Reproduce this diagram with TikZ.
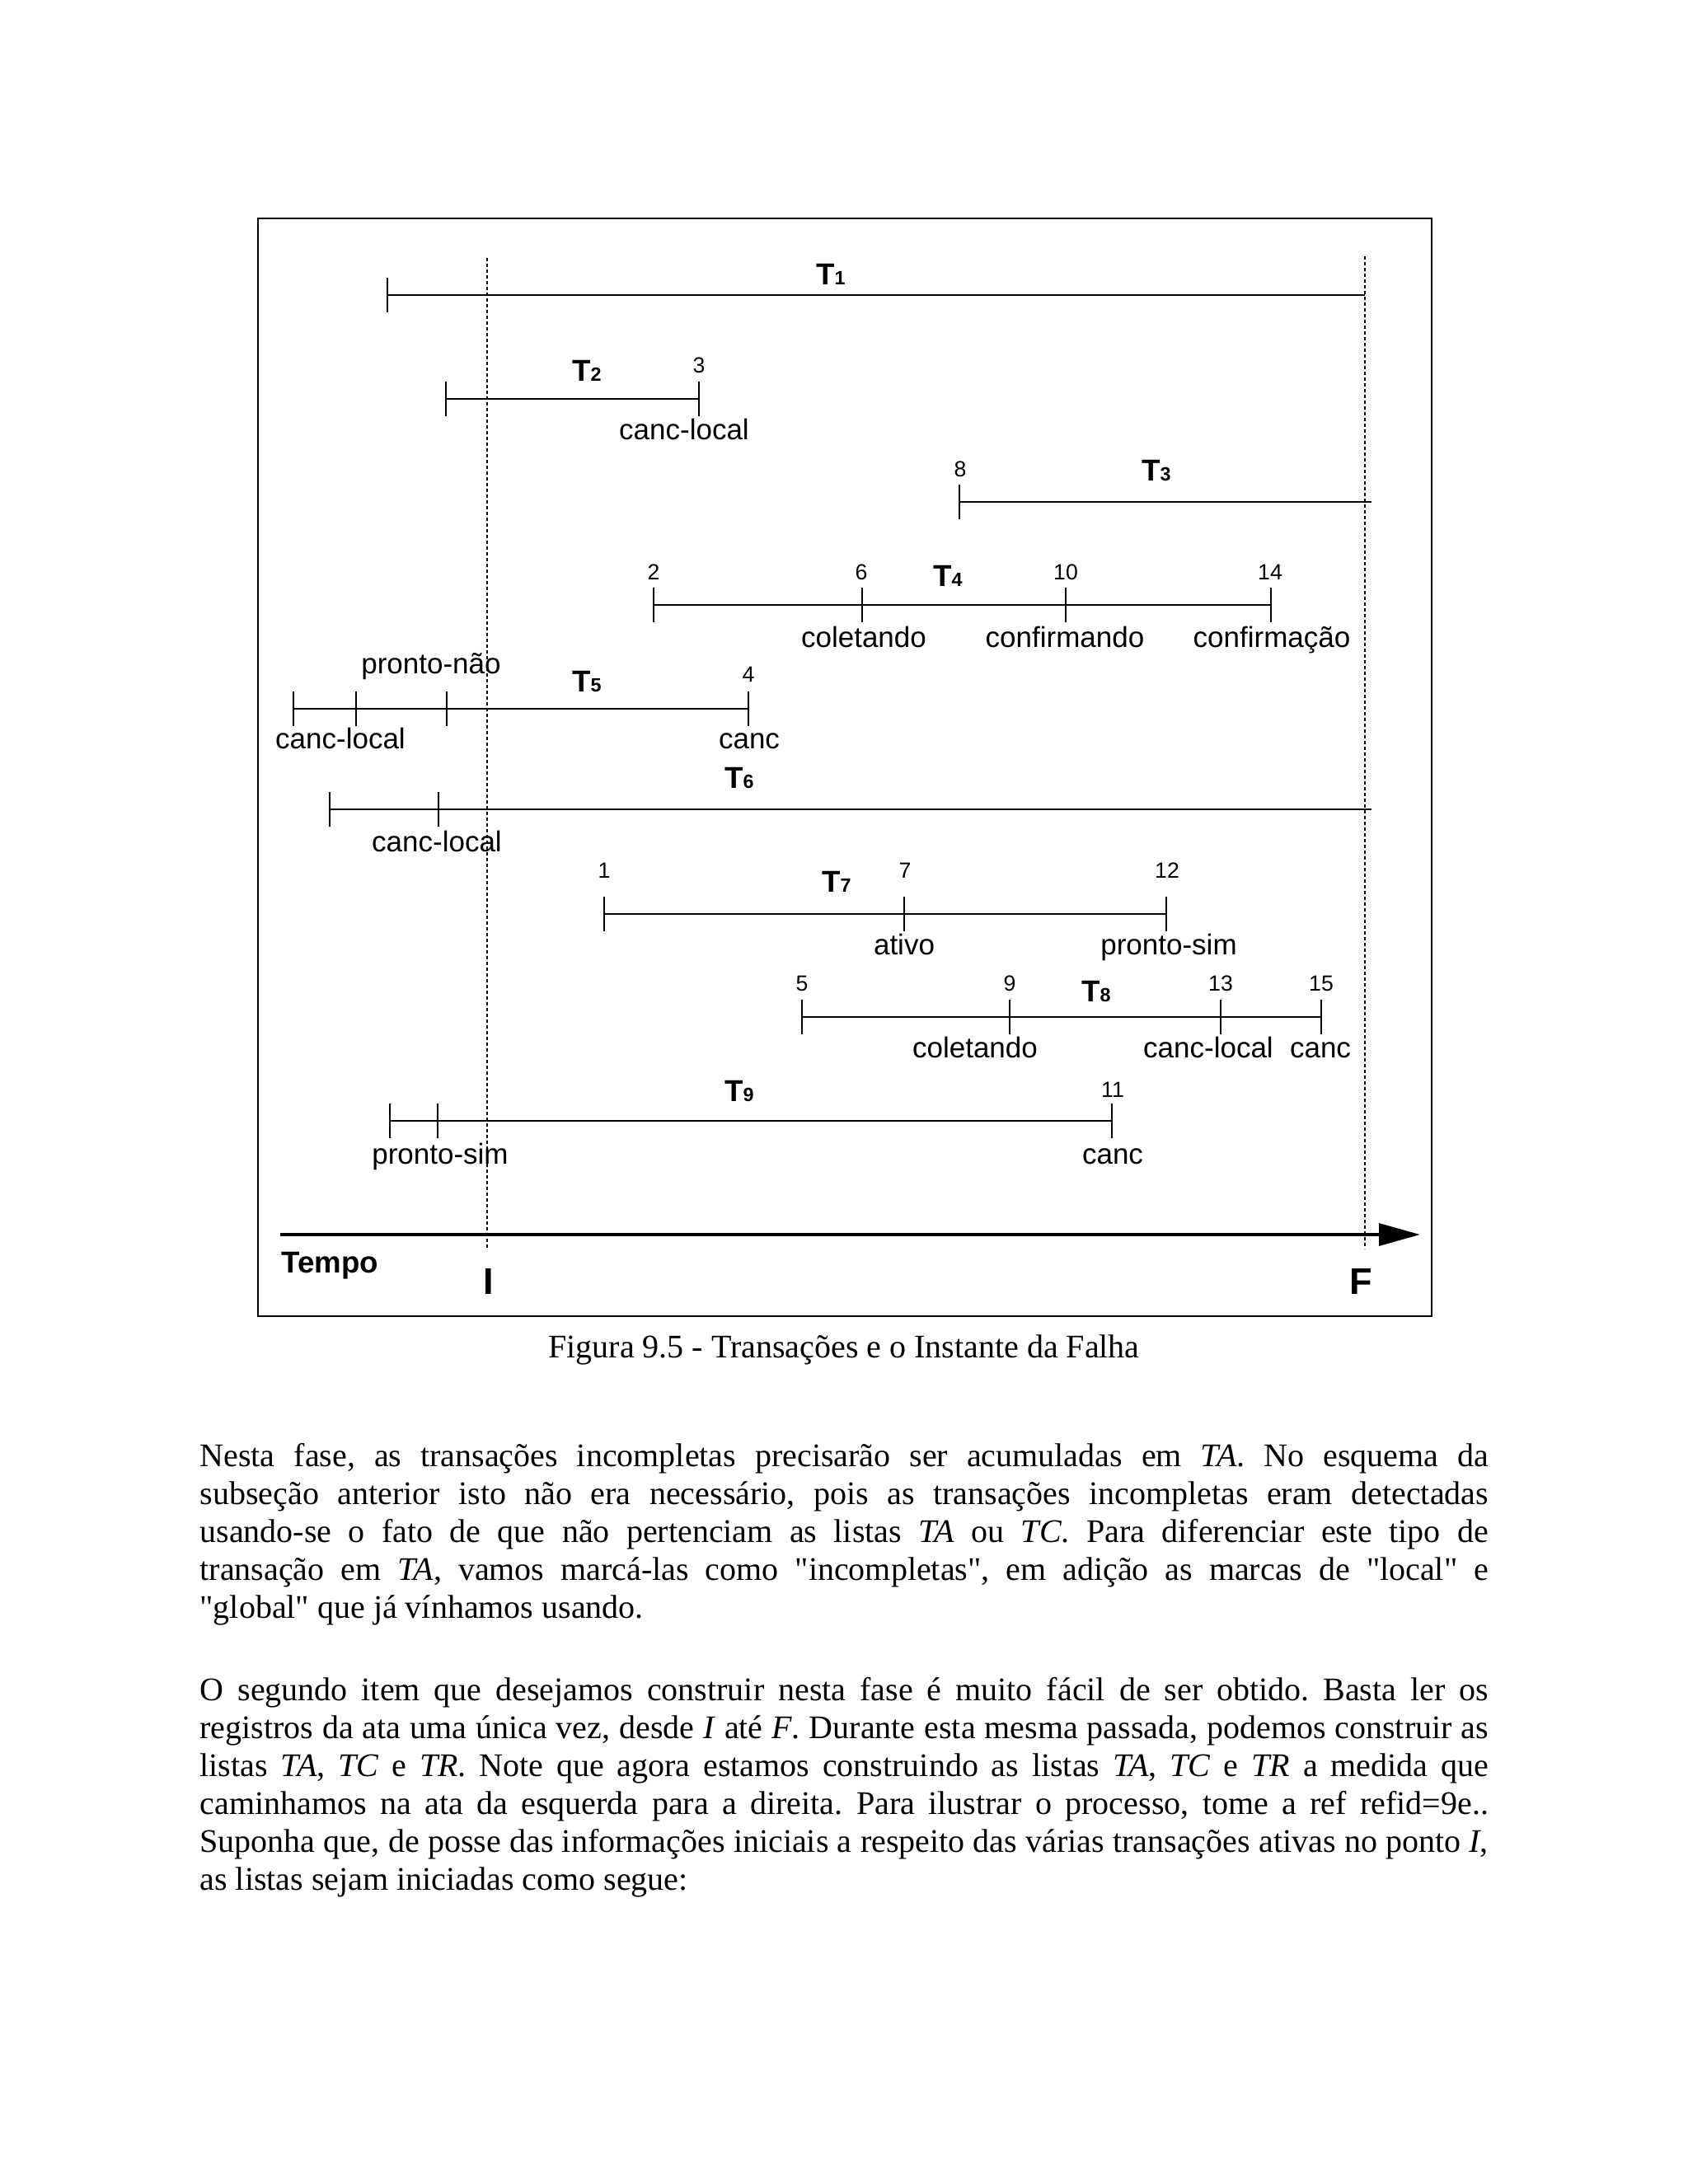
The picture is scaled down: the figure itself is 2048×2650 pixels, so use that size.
\documentclass[tikz,border=0pt]{standalone}
\usepackage{fontspec}
\setmainfont{Liberation Serif}[Ligatures=TeXOff]
\newfontfamily\diagfont{Liberation Sans}
\usetikzlibrary{arrows.meta,positioning}

\newcommand{\tname}[1]{T{\fontsize{7}{8}\selectfont #1}}
\newcommand{\jline}[1]{\makebox[469pt][s]{\strut #1}}
\frenchspacing

\begin{document}
\begin{tikzpicture}[x=0.3pt,y=-0.3pt,
  txline/.style={line width=0.8pt},
  tickmark/.style={line width=0.45pt},
  guide/.style={line width=0.4pt,dash pattern=on 1.2pt off 0.9pt},
  evnum/.style={font=\diagfont\fontsize{8}{9}\selectfont,anchor=base,inner sep=0pt},
  evlbl/.style={font=\diagfont\fontsize{10.5}{12}\selectfont,anchor=base,inner sep=0pt},
  txname/.style={font=\diagfont\bfseries\fontsize{11}{13}\selectfont,anchor=base,inner sep=0pt},
  body/.style={font=\fontsize{12}{13.8}\selectfont,anchor=north west,inner sep=0pt,align=left},
]
  \useasboundingbox (0,0) rectangle (2048,2650);

  % frame
  \draw[line width=0.6pt] (313,265) rectangle (1737,1597);

  % instants I and F
  \coordinate (Itop) at (591,313);
  \coordinate (Ibot) at (591,1515);
  \coordinate (Ftop) at (1656,311);
  \coordinate (Fbot) at (1656,1515);
  \draw[guide] (Itop) -- (Ibot);
  \draw[guide] (Ftop) -- (Fbot);

  % T1
  \coordinate (t1a) at (470,358);
  \coordinate (t1z) at (1656,358);
  \draw[txline] (t1a) -- (t1z);
  \node[txname] (n1) at (1008,345) {\tname{1}};

  % T2
  \coordinate (t2a) at (541,484);
  \coordinate (t2b) at (848,484);
  \draw[txline] (t2a) -- (t2b);
  \node[txname] (n2) at (712,462) {\tname{2}};
  \node[evnum] (e3) at (848,452) {3};
  \node[evlbl] (l2b) at (830,533) {canc-local};

  % T3
  \coordinate (t3a) at (1164,609);
  \coordinate (t3z) at (1664,609);
  \draw[txline] (t3a) -- (t3z);
  \node[txname] (n3) at (1403,583) {\tname{3}};
  \node[evnum] (e8) at (1165,578) {8};

  % T4
  \coordinate (t4a) at (793,734);
  \coordinate (t4b) at (1046,734);
  \coordinate (t4c) at (1293,734);
  \coordinate (t4d) at (1542,734);
  \draw[txline] (t4a) -- (t4d);
  \node[txname] (n4) at (1150,711) {\tname{4}};
  \node[evnum] (e2) at (793,703) {2};
  \node[evnum] (e6) at (1045,703) {6};
  \node[evnum] (e10) at (1293,703) {10};
  \node[evnum] (e14) at (1541,703) {14};
  \node[evlbl] (l4b) at (1048,785) {coletando};
  \node[evlbl] (l4c) at (1292,785) {confirmando};
  \node[evlbl] (l4d) at (1543,785) {confirmação};

  % T5
  \coordinate (t5a) at (356,860);
  \coordinate (t5b) at (432,860);
  \coordinate (t5c) at (542,860);
  \coordinate (t5d) at (908,860);
  \draw[txline] (t5a) -- (t5d);
  \node[txname] (n5) at (712,839) {\tname{5}};
  \node[evnum] (e4) at (908,827) {4};
  \node[evlbl] (l5c) at (523,817) {pronto-não};
  \node[evlbl] (l5b) at (413,908) {canc-local};
  \node[evlbl] (l5d) at (909,908) {canc};

  % T6
  \coordinate (t6a) at (400,982);
  \coordinate (t6b) at (532,982);
  \coordinate (t6z) at (1664,982);
  \draw[txline] (t6a) -- (t6z);
  \node[txname] (n6) at (897,956) {\tname{6}};
  \node[evlbl] (l6b) at (530,1033) {canc-local};

  % T7
  \coordinate (t7a) at (733,1109);
  \coordinate (t7b) at (1097,1109);
  \coordinate (t7c) at (1415,1109);
  \draw[txline] (t7a) -- (t7c);
  \node[txname] (n7) at (1015,1082) {\tname{7}};
  \node[evnum] (e1) at (733,1065) {1};
  \node[evnum] (e7) at (1098,1065) {7};
  \node[evnum] (e12) at (1416,1065) {12};
  \node[evlbl] (l7b) at (1097,1158) {ativo};
  \node[evlbl] (l7c) at (1418,1158) {pronto-sim};

  % T8
  \coordinate (t8a) at (973,1234);
  \coordinate (t8b) at (1225,1234);
  \coordinate (t8c) at (1481,1234);
  \coordinate (t8d) at (1603,1234);
  \draw[txline] (t8a) -- (t8d);
  \node[txname] (n8) at (1330,1215) {\tname{8}};
  \node[evnum] (e5) at (973,1202) {5};
  \node[evnum] (e9) at (1225,1202) {9};
  \node[evnum] (e13) at (1481,1202) {13};
  \node[evnum] (e15) at (1603,1202) {15};
  \node[evlbl] (l8b) at (1183,1283) {coletando};
  \node[evlbl] (l8c) at (1466,1283) {canc-local};
  \node[evlbl] (l8d) at (1602,1283) {canc};

  % T9
  \coordinate (t9a) at (473,1360);
  \coordinate (t9b) at (531,1360);
  \coordinate (t9c) at (1349,1360);
  \draw[txline] (t9a) -- (t9c);
  \node[txname] (n9) at (897,1336) {\tname{9}};
  \node[evnum] (e11) at (1350,1331) {11};
  \node[evlbl] (l9b) at (534,1412) {pronto-sim};
  \node[evlbl] (l9c) at (1350,1412) {canc};

  % ticks
  \foreach \c in {t1a,t2a,t2b,t3a,t4a,t4b,t4c,t4d,t5a,t5b,t5c,t5d,t6a,t6b,
                  t7a,t7b,t7c,t8a,t8b,t8c,t8d,t9a,t9b,t9c}
    \draw[tickmark] ([yshift=6.4pt]\c) -- ([yshift=-6.4pt]\c);

  % time axis
  \coordinate (ax0) at (340,1498);
  \coordinate (ax1) at (1723,1498);
  \draw[line width=1.3pt,-{Triangle[length=15pt,width=8pt]}] (ax0) -- (ax1);
  \node[txname,anchor=base west] (tempo) at (341,1544) {Tempo};
  \node[txname,font=\diagfont\bfseries\fontsize{13.5}{15}\selectfont] (lblI) at (593,1570) {I};
  \node[txname,font=\diagfont\bfseries\fontsize{13.5}{15}\selectfont] (lblF) at (1651,1570) {F};

  % caption
  \node[font=\fontsize{12}{14}\selectfont,anchor=base,inner sep=0pt] (caption) at (1024,1647)
    {Figura 9.5 - Transações e o Instante da Falha};

  % text below the figure
  \node[body] (par1) at (242,1747) {%
    \jline{Nesta fase, as transações incompletas precisarão ser acumuladas em \textit{TA}. No esquema da}\\
    \jline{subseção anterior isto não era necessário, pois as transações incompletas eram detectadas}\\
    \jline{usando-se o fato de que não pertenciam as listas \textit{TA} ou \textit{TC}. Para diferenciar este tipo de}\\
    \jline{transação em \textit{TA}, vamos marcá-las como "incompletas", em adição as marcas de "local" e}\\
    "global" que já vínhamos usando.};
  \node[body] (par2) at (242,2031) {%
    \jline{O segundo item que desejamos construir nesta fase é muito fácil de ser obtido. Basta ler os}\\
    \jline{registros da ata uma única vez, desde \textit{I} até \textit{F}. Durante esta mesma passada, podemos construir as}\\
    \jline{listas \textit{TA}, \textit{TC} e \textit{TR}. Note que agora estamos construindo as listas \textit{TA}, \textit{TC} e \textit{TR} a medida que}\\
    \jline{caminhamos na ata da esquerda para a direita. Para ilustrar o processo, tome a ref refid=9e..}\\
    \jline{Suponha que, de posse das informações iniciais a respeito das várias transações ativas no ponto \textit{I},}\\
    as listas sejam iniciadas como segue:};
\end{tikzpicture}
\end{document}
